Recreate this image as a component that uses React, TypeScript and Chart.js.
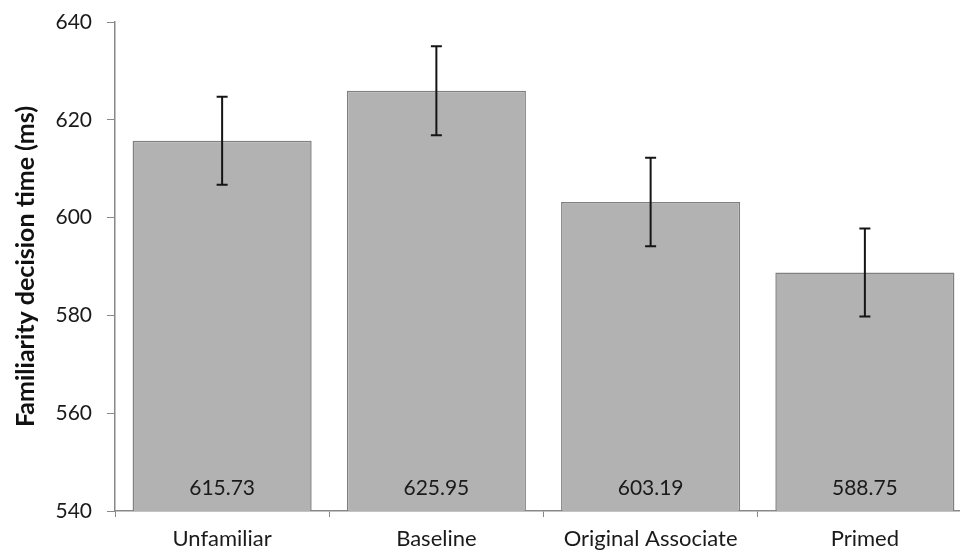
import React, { useEffect, useRef } from "react";
import { Chart, registerables } from "chart.js";

Chart.register(...registerables);

const categories = ["Unfamiliar", "Baseline", "Original Associate", "Primed"];
const meanValues = [615.73, 625.95, 603.19, 588.75];
const errorValues = [9.0, 9.1, 9.05, 9.0];
const valueLabels = ["615.73", "625.95", "603.19", "588.75"];
const yTicks = [540, 560, 580, 600, 620, 640];

const FONT = "Lato, 'Open Sans', sans-serif";

const errorBarPlugin = {
  id: "errorBars",
  afterDatasetsDraw(chart: any) {
    const ctx = chart.ctx;
    const meta = chart.getDatasetMeta(0);
    const y = chart.scales.y;
    ctx.save();
    meta.data.forEach((bar: any, i: number) => {
      const x = bar.x;
      const top = y.getPixelForValue(meanValues[i] + errorValues[i]);
      const bot = y.getPixelForValue(meanValues[i] - errorValues[i]);
      ctx.strokeStyle = "#151515";
      ctx.lineWidth = 2;
      ctx.beginPath();
      ctx.moveTo(x, top);
      ctx.lineTo(x, bot);
      ctx.moveTo(x - 5.5, top);
      ctx.lineTo(x + 5.5, top);
      ctx.moveTo(x - 5.5, bot);
      ctx.lineTo(x + 5.5, bot);
      ctx.stroke();
      // value label
      ctx.fillStyle = "#1a1a1a";
      ctx.font = `21px ${FONT}`;
      ctx.textAlign = "center";
      ctx.textBaseline = "middle";
      ctx.fillText(valueLabels[i], x, y.getPixelForValue(540) - 23);
    });
    ctx.restore();
  },
};

export default function App() {
  const ref = useRef<HTMLCanvasElement>(null);
  useEffect(() => {
    if (!ref.current) return;
    const chart = new Chart(ref.current, {
      type: "bar",
      data: {
        labels: categories,
        datasets: [
          {
            data: meanValues,
            backgroundColor: "#b2b2b2",
            borderColor: "#808080",
            borderWidth: 1.5,
            categoryPercentage: 1,
            barPercentage: 0.836,
          },
        ],
      },
      options: {
        animation: false,
        responsive: false,
        maintainAspectRatio: false,
        layout: { padding: { top: 22, right: 0, bottom: 0, left: 0 } },
        plugins: { legend: { display: false }, tooltip: { enabled: false } },
        scales: {
          x: {
            offset: true,
            grid: {
              offset: true,
              drawOnChartArea: false,
              drawTicks: true,
              tickLength: 6,
              color: "#888888",
            },
            border: { display: true, color: "#888888", width: 1.5 },
            ticks: {
              color: "#1a1a1a",
              font: { family: FONT, size: 22 },
              padding: 9,
              maxRotation: 0,
            },
            afterFit(scale: any) {
              scale.height = 42;
              scale.paddingLeft = 0;
              scale.paddingRight = 0;
            },
          },
          y: {
            min: 540,
            max: 640,
            afterBuildTicks(scale: any) {
              scale.ticks = yTicks.map((v) => ({ value: v }));
            },
            grid: {
              drawOnChartArea: false,
              drawTicks: true,
              tickLength: 8,
              color: "#888888",
            },
            border: { display: true, color: "#888888", width: 1.5 },
            ticks: {
              color: "#1a1a1a",
              font: { family: FONT, size: 21 },
              padding: 15,
            },
            title: {
              display: true,
              text: "Familiarity decision time (ms)",
              color: "#111111",
              font: { family: FONT, size: 25, weight: "bold" },
              padding: { top: 11, bottom: 0 },
            },
            afterFit(scale: any) {
              scale.width = 115;
              scale.paddingTop = 0;
              scale.paddingBottom = 0;
            },
          },
        },
      },
      plugins: [errorBarPlugin],
    });
    return () => chart.destroy();
  }, []);
  return (
    <div
      style={{
        position: "fixed",
        left: 0,
        top: 0,
        width: 960,
        height: 553,
        overflow: "hidden",
        background: "#ffffff",
      }}
    >
      <canvas ref={ref} width={972} height={553} style={{ display: "block" }} />
    </div>
  );
}
